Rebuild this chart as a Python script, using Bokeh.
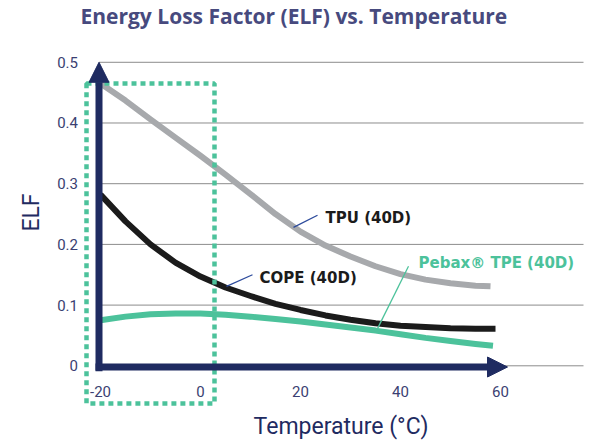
from bokeh.plotting import figure
from bokeh.models import (Range1d, FixedTicker, Arrow, NormalHead, BoxAnnotation, Label)
from bokeh.embed import file_html
from bokeh.resources import INLINE

# ---- data ----
temp_tpu = [-20, -15, -10, -5, 0, 5, 10, 15, 20, 25, 30, 35, 40, 45, 50, 55, 58]
elf_tpu = [0.465, 0.437, 0.406, 0.376, 0.346, 0.315, 0.283, 0.25, 0.221, 0.198,
           0.18, 0.164, 0.151, 0.142, 0.136, 0.132, 0.131]

temp_cope = [-20, -15, -10, -5, 0, 5, 10, 15, 20, 25, 30, 35, 40, 45, 50, 55, 59]
elf_cope = [0.282, 0.238, 0.200, 0.170, 0.147, 0.129, 0.115, 0.102, 0.092, 0.083,
            0.076, 0.070, 0.066, 0.064, 0.062, 0.061, 0.061]

temp_pebax = [-20, -15, -10, -5, 0, 5, 10, 15, 20, 25, 30, 35, 40, 45, 50, 55, 58.5]
elf_pebax = [0.075, 0.081, 0.085, 0.086, 0.086, 0.084, 0.081, 0.077, 0.073, 0.068,
             0.063, 0.058, 0.052, 0.046, 0.041, 0.036, 0.033]

x_ticks = [-20, 0, 20, 40, 60]
x_tick_labels = ["-20", "0", "20", "40", "60"]
y_ticks = [0, 0.1, 0.2, 0.3, 0.4, 0.5]
y_tick_labels = ["0", "0.1", "0.2", "0.3", "0.4", "0.5"]

series_names = ["TPU (40D)", "COPE (40D)", "Pebax® TPE (40D)"]
title_text = "Energy Loss Factor (ELF) vs. Temperature"

# ---- styles ----
NAVY = "#1f2b61"
TITLE_C = "#474a7e"
TICK_C = "#3b3f72"
GRAY = "#a7a9ac"
BLACK = "#1b1b1b"
GREEN = "#4cc29b"
POINTER = "#2d4b9c"
GRID = "#8c8c8c"

# the frame covers the whole canvas; axes are drawn at fixed locations
p = figure(width=600, height=443, output_backend="svg", toolbar_location=None,
           x_range=Range1d(-40, 80), y_range=Range1d(-0.128, 0.6018),
           min_border=0, min_border_left=0, min_border_right=0,
           min_border_top=0, min_border_bottom=0, outline_line_color=None)

# axes
p.xaxis.ticker = FixedTicker(ticks=x_ticks)
p.yaxis.ticker = FixedTicker(ticks=y_ticks)
p.xaxis.major_label_overrides = {t: l for t, l in zip(x_ticks, x_tick_labels)}
p.yaxis.major_label_overrides = {t: l for t, l in zip(y_ticks, y_tick_labels)}
for ax in (p.xaxis[0], p.yaxis[0]):
    ax.axis_line_color = None
    ax.major_tick_line_color = None
    ax.minor_tick_line_color = None
    ax.major_tick_out = 0
    ax.major_tick_in = 0
    ax.major_label_text_font = "Roboto"
    ax.major_label_text_font_size = "15px"
    ax.major_label_text_color = TICK_C
    ax.axis_label_text_font = "Roboto"
    ax.axis_label_text_font_size = "23px"
    ax.axis_label_text_font_style = "normal"
    ax.axis_label_text_color = NAVY
p.xaxis.fixed_location = 0
p.yaxis.fixed_location = -20.3
p.xaxis.bounds = (-20.4, 76.6)
p.yaxis.bounds = (-0.01, 0.515)
p.yaxis.axis_label = "ELF"
p.xaxis.axis_label = "Temperature (°C)"
p.yaxis.major_label_standoff = 21
p.yaxis.axis_label_standoff = 10
p.xaxis.major_label_standoff = 20
p.xaxis.axis_label_standoff = 13

p.xgrid.grid_line_color = None
p.ygrid.grid_line_color = None

# horizontal grid lines at the y ticks, from the y axis to the right edge
p.segment(x0=[-20.3] * len(y_ticks), y0=y_ticks, x1=[76.6] * len(y_ticks), y1=y_ticks,
          line_color=GRID, line_width=1)

# curves
p.line(temp_tpu, elf_tpu, line_width=6, line_color=GRAY, line_join="round")
p.line(temp_cope, elf_cope, line_width=6, line_color=BLACK, line_join="round")
p.line(temp_pebax, elf_pebax, line_width=6, line_color=GREEN, line_join="round")

# highlight box (dotted green)
p.add_layout(BoxAnnotation(left=-22.8, right=2.8, top=0.465, bottom=-0.062,
                           fill_alpha=0, fill_color=None, line_color=GREEN,
                           line_alpha=1.0, line_width=4.5, line_dash="5 4"))

# axis arrows
p.add_layout(Arrow(end=NormalHead(size=20, fill_color=NAVY, line_color=NAVY),
                   x_start=-20.3, y_start=-0.009, x_end=-20.3, y_end=0.5,
                   line_width=7, line_color=NAVY))
p.add_layout(Arrow(end=NormalHead(size=20, fill_color=NAVY, line_color=NAVY),
                   x_start=-21.0, y_start=-0.002, x_end=61.4, y_end=-0.002,
                   line_width=7, line_color=NAVY))

# series labels with leader lines
label_x = [25.0, 11.8, 43.6]
label_y = [0.244, 0.145, 0.170]
label_colors = [BLACK, BLACK, GREEN]
lead_x0 = [18.6, 5.2, 35.2]
lead_y0 = [0.228, 0.131, 0.058]
lead_x1 = [23.4, 10.4, 41.6]
lead_y1 = [0.248, 0.150, 0.164]
lead_colors = [POINTER, POINTER, GREEN]

p.segment(lead_x0, lead_y0, lead_x1, lead_y1, line_color=lead_colors, line_width=1.3)
for name, lx, ly, c in zip(series_names, label_x, label_y, label_colors):
    p.add_layout(Label(x=lx, y=ly, text=name, text_font="DejaVu Sans",
                       text_font_size="15px", text_font_style="bold",
                       text_color=c, text_baseline="middle", text_align="left"))

# chart title
p.add_layout(Label(x=-24, y=0.577, text=title_text, text_font="Open Sans",
                   text_font_size="21px", text_font_style="bold",
                   text_color=TITLE_C, text_baseline="middle", text_align="left"))

open("out.html", "w").write(file_html(p, INLINE))
